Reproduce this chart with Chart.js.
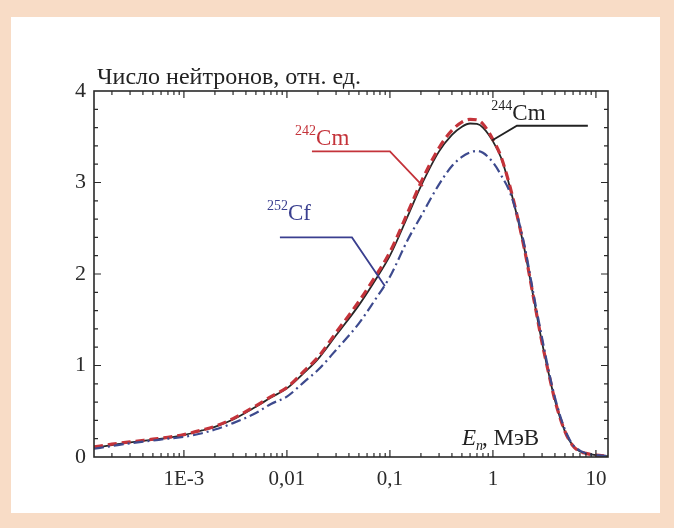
<!DOCTYPE html>
<html>
<head>
<meta charset="utf-8">
<script src="https://cdn.jsdelivr.net/npm/chart.js@4.4.1/dist/chart.umd.min.js"></script>
<style>
  html, body { margin: 0; padding: 0; }
  body { width: 674px; height: 528px; background: #f8dcc6; position: relative; overflow: hidden; }
  .panel { position: absolute; left: 11px; top: 17px; width: 649px; height: 496px; background: #fff; }
  canvas { position: absolute; left: 0; top: 0; }
</style>
</head>
<body>
<div class="panel"></div>
<canvas id="spectrum" width="674" height="528"></canvas>
<script>
// neutron energy, MeV
const energy = [1.34e-4, 2e-4, 3e-4, 5e-4, 7e-4, 1e-3, 1.5e-3, 2e-3, 3e-3, 5e-3,
  7e-3, 0.01, 0.015, 0.02, 0.03, 0.05, 0.07, 0.1, 0.15, 0.2,
  0.3, 0.4, 0.5, 0.6, 0.7, 0.8, 1.0, 1.2, 1.5, 2.0,
  2.5, 3.0, 3.5, 4.0, 5.0, 6.0, 7.0, 8.0, 10, 13.1];

// neutron counts, rel. units
const cm244 = [0.10, 0.13, 0.16, 0.19, 0.21, 0.24, 0.29, 0.33, 0.41, 0.55,
  0.65, 0.75, 0.93, 1.07, 1.33, 1.66, 1.91, 2.20, 2.64, 2.96,
  3.34, 3.52, 3.61, 3.645, 3.64, 3.60, 3.45, 3.27, 2.90, 2.30,
  1.72, 1.25, 0.90, 0.62, 0.28, 0.12, 0.06, 0.04, 0.02, 0.01];
const cm242 = [0.11, 0.14, 0.165, 0.195, 0.215, 0.245, 0.295, 0.335, 0.42, 0.56,
  0.66, 0.76, 0.95, 1.09, 1.36, 1.70, 1.95, 2.24, 2.68, 3.00,
  3.38, 3.57, 3.66, 3.69, 3.685, 3.64, 3.47, 3.28, 2.91, 2.30,
  1.72, 1.25, 0.90, 0.62, 0.28, 0.12, 0.06, 0.04, 0.02, 0.01];
const cf252 = [0.09, 0.12, 0.15, 0.18, 0.20, 0.22, 0.26, 0.30, 0.37, 0.48,
  0.58, 0.66, 0.83, 0.95, 1.17, 1.46, 1.70, 1.97, 2.38, 2.63,
  2.98, 3.18, 3.28, 3.33, 3.345, 3.325, 3.22, 3.08, 2.86, 2.34,
  1.76, 1.30, 0.93, 0.65, 0.30, 0.13, 0.07, 0.04, 0.02, 0.01];

// axis labels
const xTickValues = [1e-3, 0.01, 0.1, 1, 10];
const xTickLabels = ['1E-3', '0,01', '0,1', '1', '10'];
const yTickValues = [0, 1, 2, 3, 4];
const yTickLabels = ['0', '1', '2', '3', '4'];
const yTitle = 'Число нейтронов, отн. ед.';
const xTitle = ['E', 'n', ', МэВ'];

// curve labels: mass number, element, text anchor and leader path (E, value)
const isotopeMass = ['242', '244', '252'];
const isotopeName = ['Cm', 'Cm', 'Cf'];
const labelAt = [[0.012, 3.41], [0.965, 3.68], [0.0064, 2.59]];
const leaders = [
  [[0.0175, 3.34], [0.1, 3.34], [0.209, 2.96]],
  [[0.98, 3.46], [1.71, 3.62], [8.35, 3.62]],
  [[0.00855, 2.40], [0.0428, 2.40], [0.0893, 1.87]]
];

const serif = '"Liberation Serif", "Times New Roman", serif';
const ink = '#2a2a2a';
const colors = { cm244: '#262626', cm242: '#c4333a', cf252: '#3d4a8e' };
const labelColors = [colors.cm242, '#222', '#3a3f8f'];

// log minor ticks 1..9 per decade
const xMinor = [];
for (let e = -4; e <= 1; e++) {
  for (let m = 1; m <= 9; m++) xMinor.push(m * Math.pow(10, e));
}
const isMajorX = v => xTickValues.some(t => Math.abs(Math.log10(v) - Math.log10(t)) < 1e-6);
const toPoints = vals => energy.map((e, i) => ({ x: e, y: vals[i] }));

const framePlugin = {
  id: 'frame',
  afterDraw(chart) {
    const { ctx, chartArea: a, scales: { x, y } } = chart;
    ctx.save();
    ctx.strokeStyle = ink;
    ctx.lineWidth = 1.6;
    ctx.strokeRect(a.left, a.top, a.right - a.left, a.bottom - a.top);
    ctx.lineWidth = 1.2;
    ctx.beginPath();
    x.ticks.forEach(t => {
      const px = x.getPixelForValue(t.value);
      if (px <= a.left + 1 || px >= a.right - 1) return;
      const len = isMajorX(t.value) ? 7 : 4;
      ctx.moveTo(px, a.bottom); ctx.lineTo(px, a.bottom - len);
      ctx.moveTo(px, a.top); ctx.lineTo(px, a.top + len);
    });
    y.ticks.forEach(t => {
      const py = y.getPixelForValue(t.value);
      if (py <= a.top + 1 || py >= a.bottom - 1) return;
      const major = Math.abs(t.value - Math.round(t.value)) < 1e-6;
      const len = major ? 7 : 4;
      ctx.moveTo(a.left, py); ctx.lineTo(a.left + len, py);
      ctx.moveTo(a.right, py); ctx.lineTo(a.right - len, py);
    });
    ctx.stroke();

    // axis titles
    ctx.fillStyle = '#222';
    ctx.textBaseline = 'alphabetic';
    ctx.font = '24px ' + serif;
    ctx.fillText(yTitle, a.left + 3, a.top - 7);

    let ex = x.getPixelForValue(0.5), ey = y.getPixelForValue(0.13);
    ctx.font = 'italic 23px ' + serif;
    ctx.fillText(xTitle[0], ex, ey);
    ex += ctx.measureText(xTitle[0]).width;
    ctx.font = 'italic 14px ' + serif;
    ctx.fillText(xTitle[1], ex, ey + 5);
    ex += ctx.measureText(xTitle[1]).width - 1;
    ctx.font = '23px ' + serif;
    ctx.fillText(xTitle[2], ex, ey);

    // curve labels and leader lines
    isotopeMass.forEach((mass, i) => {
      ctx.strokeStyle = labelColors[i];
      ctx.fillStyle = labelColors[i];
      ctx.lineWidth = 1.8;
      ctx.beginPath();
      leaders[i].forEach(([e, v], k) => {
        const px = x.getPixelForValue(e), py = y.getPixelForValue(v);
        if (k === 0) ctx.moveTo(px, py); else ctx.lineTo(px, py);
      });
      ctx.stroke();
      let lx = x.getPixelForValue(labelAt[i][0]);
      const ly = y.getPixelForValue(labelAt[i][1]);
      ctx.font = '14px ' + serif;
      ctx.fillText(mass, lx, ly - 10);
      lx += ctx.measureText(mass).width;
      ctx.font = '23px ' + serif;
      ctx.fillText(isotopeName[i], lx, ly);
    });
    ctx.restore();
  }
};

new Chart(document.getElementById('spectrum'), {
  type: 'line',
  data: {
    datasets: [
      {
        label: '252Cf',
        data: toPoints(cf252),
        borderColor: colors.cf252,
        borderWidth: 2.2,
        borderDash: [10, 4, 2, 4],
        cubicInterpolationMode: 'monotone',
        pointRadius: 0
      },
      {
        label: '242Cm',
        data: toPoints(cm242),
        borderColor: colors.cm242,
        borderWidth: 3.2,
        borderDash: [9, 5],
        cubicInterpolationMode: 'monotone',
        pointRadius: 0
      },
      {
        label: '244Cm',
        data: toPoints(cm244),
        borderColor: colors.cm244,
        borderWidth: 1.8,
        cubicInterpolationMode: 'monotone',
        pointRadius: 0
      }
    ]
  },
  options: {
    responsive: false,
    animation: false,
    devicePixelRatio: 1,
    layout: { padding: { left: 54, right: 66, top: 91, bottom: 31 } },
    plugins: { legend: { display: false }, tooltip: { enabled: false }, title: { display: false } },
    scales: {
      x: {
        type: 'logarithmic',
        min: 1.34e-4,
        max: 13.1,
        grid: { display: false, drawTicks: false },
        border: { display: false },
        afterBuildTicks: s => { s.ticks = xMinor.filter(v => v >= s.min && v <= s.max).map(v => ({ value: v })); },
        afterFit: s => { s.height = 40; },
        ticks: {
          autoSkip: false,
          maxRotation: 0,
          padding: 10,
          color: ink,
          font: { family: serif, size: 21 },
          callback: v => {
            const k = xTickValues.findIndex(t => Math.abs(Math.log10(v) - Math.log10(t)) < 1e-6);
            return k >= 0 ? xTickLabels[k] : '';
          }
        }
      },
      y: {
        min: 0,
        max: 4,
        grid: { display: false, drawTicks: false },
        border: { display: false },
        afterFit: s => { s.width = 40; },
        ticks: {
          stepSize: 0.2,
          autoSkip: false,
          padding: 8,
          color: ink,
          font: { family: serif, size: 22 },
          callback: v => {
            const k = yTickValues.findIndex(t => Math.abs(v - t) < 1e-6);
            return k >= 0 ? yTickLabels[k] : '';
          }
        }
      }
    }
  },
  plugins: [framePlugin]
});
</script>
</body>
</html>
